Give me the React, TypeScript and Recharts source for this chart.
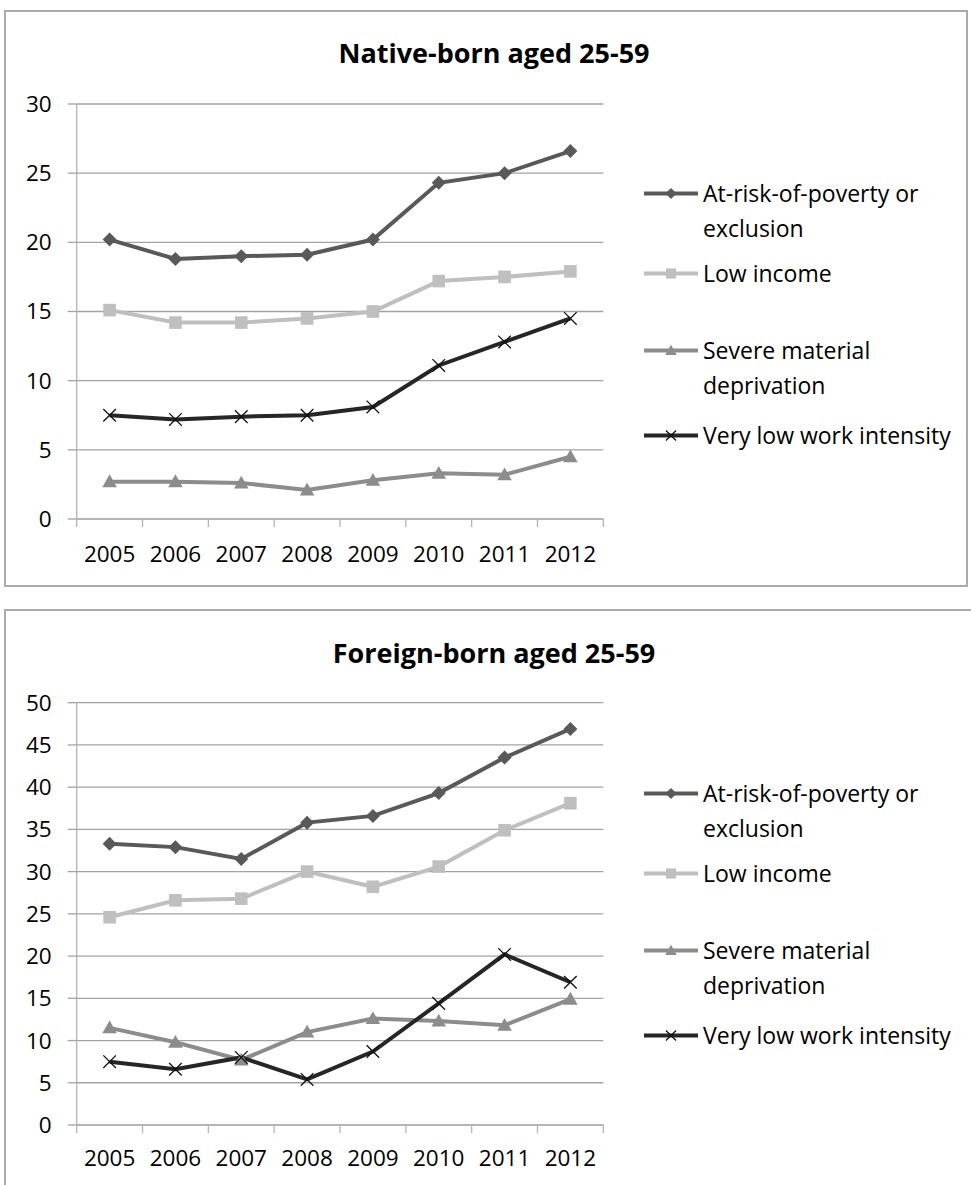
import React from "react";
import { LineChart, Line, XAxis, YAxis, CartesianGrid, Legend } from "recharts";

const YEARS = ["2005", "2006", "2007", "2008", "2009", "2010", "2011", "2012"];

const SERIES_KEYS = ["poverty", "lowIncome", "deprivation", "workIntensity"];
const SERIES_NAMES = [
  "At-risk-of-poverty or\nexclusion",
  "Low income",
  "Severe material\ndeprivation",
  "Very low work intensity",
];

// Native-born aged 25-59
const NATIVE_POVERTY = [20.2, 18.8, 19.0, 19.1, 20.2, 24.3, 25.0, 26.6];
const NATIVE_LOW_INCOME = [15.1, 14.2, 14.2, 14.5, 15.0, 17.2, 17.5, 17.9];
const NATIVE_DEPRIVATION = [2.7, 2.7, 2.6, 2.1, 2.8, 3.3, 3.2, 4.5];
const NATIVE_WORK = [7.5, 7.2, 7.4, 7.5, 8.1, 11.1, 12.8, 14.5];
const NATIVE_TICKS = [0, 5, 10, 15, 20, 25, 30];

// Foreign-born aged 25-59
const FOREIGN_POVERTY = [33.3, 32.9, 31.5, 35.8, 36.6, 39.3, 43.5, 46.9];
const FOREIGN_LOW_INCOME = [24.6, 26.6, 26.8, 30.0, 28.2, 30.6, 34.9, 38.1];
const FOREIGN_DEPRIVATION = [11.5, 9.8, 7.7, 11.0, 12.6, 12.3, 11.8, 14.9];
const FOREIGN_WORK = [7.5, 6.6, 8.0, 5.4, 8.7, 14.4, 20.2, 16.9];
const FOREIGN_TICKS = [0, 5, 10, 15, 20, 25, 30, 35, 40, 45, 50];

const FONT = "'Open Sans', sans-serif";
const GRID = "#a3a3a3";
const AXIS = "#b3b3b3";

const STYLES: Record<string, { color: string; shape: string }> = {
  poverty: { color: "#595959", shape: "diamond" },
  lowIncome: { color: "#bfbfbf", shape: "square" },
  deprivation: { color: "#8c8c8c", shape: "triangle" },
  workIntensity: { color: "#262626", shape: "cross" },
};

const PAGE_W = 971;
const PLOT_LEFT = 76.7;
const PLOT_RIGHT = 603.3;
const BAND = (PLOT_RIGHT - PLOT_LEFT) / YEARS.length;
const LEGEND_ROWS = [193, 273, 350, 435];

function buildRows(series: number[][]) {
  return YEARS.map((year, i) => {
    const row: Record<string, string | number> = { year };
    SERIES_KEYS.forEach((k, s) => (row[k] = series[s][i]));
    return row;
  });
}

function Marker({ shape, cx, cy, color, scale = 1 }: {
  shape: string; cx?: number; cy?: number; color: string; scale?: number;
}) {
  if (cx == null || cy == null) return null;
  if (shape === "diamond") {
    const r = 7 * scale;
    return <polygon points={`${cx},${cy - r} ${cx + r},${cy} ${cx},${cy + r} ${cx - r},${cy}`} fill={color} />;
  }
  if (shape === "square") {
    const h = 6.3 * scale;
    return <rect x={cx - h} y={cy - h} width={2 * h} height={2 * h} fill={color} />;
  }
  if (shape === "triangle") {
    const s = 7.3 * scale;
    return <polygon points={`${cx},${cy - s} ${cx + s},${cy + s * 0.75} ${cx - s},${cy + s * 0.75}`} fill={color} />;
  }
  const c = 6.3 * scale;
  return (
    <path
      d={`M${cx - c},${cy - c}L${cx + c},${cy + c}M${cx - c},${cy + c}L${cx + c},${cy - c}`}
      stroke="#111"
      strokeWidth={1.3}
      fill="none"
    />
  );
}

function YearTick(props: any) {
  const { x, y, payload, index, labelGap } = props;
  const half = payload?.offset || BAND / 2;
  const last = index === YEARS.length - 1;
  return (
    <g>
      <line x1={x - half} x2={x - half} y1={y} y2={y + 8} stroke={AXIS} strokeWidth={1.3} />
      {last && <line x1={x + half} x2={x + half} y1={y} y2={y + 8} stroke={AXIS} strokeWidth={1.3} />}
      <text x={x} y={y + labelGap} textAnchor="middle" dominantBaseline="central"
        fontFamily={FONT} fontSize={22.5} fill="#000">
        {payload.value}
      </text>
    </g>
  );
}

function LegendBox({ payload }: any) {
  const items = (payload || []).map((p: any) => ({ key: p.dataKey, name: p.value }));
  return (
    <div style={{ position: "relative", width: 320, height: 320 }}>
      {items.map((it: any, i: number) => {
        const st = STYLES[it.key];
        return (
          <div key={it.key} style={{ position: "absolute", left: 0, top: LEGEND_ROWS[i] - 150 - 17.5, display: "flex" }}>
            <svg width={56} height={35} style={{ flex: "none" }}>
              <line x1={1} x2={55} y1={17.5} y2={17.5} stroke={st.color} strokeWidth={4} />
              <Marker shape={st.shape} cx={28} cy={17.5} color={st.color} scale={0.8} />
            </svg>
            <div style={{ marginLeft: 4, fontFamily: FONT, fontSize: 23, lineHeight: "35px", whiteSpace: "pre-line", color: "#000" }}>
              {it.name}
            </div>
          </div>
        );
      })}
    </div>
  );
}

function Panel({ title, top, height, box, plotTop, plotBottom, labelGap, rows, ticks }: {
  title: string; top: number; height: number;
  box: { left: number; top: number; width: number; height: number };
  plotTop: number; plotBottom: number; labelGap: number;
  rows: Record<string, string | number>[]; ticks: number[];
}) {
  const axisH = 60;
  return (
    <div style={{ position: "absolute", left: 0, top, width: PAGE_W, height }}>
      <div style={{
        position: "absolute", left: box.left, top: box.top, width: box.width, height: box.height,
        border: "2px solid #ababab", boxSizing: "border-box",
      }} />
      <div style={{
        position: "absolute", left: 194, top: 35, width: 600, textAlign: "center",
        fontFamily: FONT, fontWeight: 700, fontSize: 27, lineHeight: "36px", color: "#000",
      }}>
        {title}
      </div>
      <div style={{ position: "absolute", left: 0, top: 0 }}>
        <LineChart
          width={PAGE_W}
          height={height}
          data={rows}
          margin={{ top: plotTop, right: PAGE_W - PLOT_RIGHT, bottom: height - plotBottom - axisH, left: 0 }}
        >
          <CartesianGrid vertical={false} stroke={GRID} strokeWidth={1.3} />
          <XAxis
            dataKey="year"
            scale="band"
            height={axisH}
            interval={0}
            tickSize={0}
            tickMargin={0}
            tickLine={false}
            axisLine={{ stroke: AXIS, strokeWidth: 1.3 }}
            tick={<YearTick labelGap={labelGap} />}
          />
          <YAxis
            width={PLOT_LEFT}
            domain={[0, ticks[ticks.length - 1]]}
            ticks={ticks}
            interval={0}
            tickSize={9}
            tickMargin={16}
            axisLine={{ stroke: AXIS, strokeWidth: 1.3 }}
            tickLine={{ stroke: GRID, strokeWidth: 1.3 }}
            tick={{ fontFamily: FONT, fontSize: 22.5, fill: "#000" }}
          />
          <Legend
            layout="vertical"
            align="center"
            verticalAlign="middle"
            wrapperStyle={{ left: 643, top: 150, width: 320, height: 320 }}
            content={<LegendBox />}
          />
          {SERIES_KEYS.map((k, i) => (
            <Line
              key={k}
              type="linear"
              dataKey={k}
              name={SERIES_NAMES[i]}
              stroke={STYLES[k].color}
              strokeWidth={4}
              isAnimationActive={false}
              activeDot={false}
              dot={(p: any) => (
                <Marker key={`${k}-${p.index}`} shape={STYLES[k].shape} cx={p.cx} cy={p.cy} color={STYLES[k].color} />
              )}
            />
          ))}
        </LineChart>
      </div>
    </div>
  );
}

export default function App() {
  const nativeRows = buildRows([NATIVE_POVERTY, NATIVE_LOW_INCOME, NATIVE_DEPRIVATION, NATIVE_WORK]);
  const foreignRows = buildRows([FOREIGN_POVERTY, FOREIGN_LOW_INCOME, FOREIGN_DEPRIVATION, FOREIGN_WORK]);
  return (
    <div style={{ position: "absolute", left: 0, top: 0, width: PAGE_W, height: 1185, overflow: "hidden", background: "#fff" }}>
      <Panel
        title="Native-born aged 25-59"
        top={0}
        height={600}
        box={{ left: 4, top: 10, width: 964, height: 577 }}
        plotTop={104}
        plotBottom={519}
        labelGap={34}
        rows={nativeRows}
        ticks={NATIVE_TICKS}
      />
      <Panel
        title="Foreign-born aged 25-59"
        top={600}
        height={585}
        box={{ left: 4, top: 9, width: 980, height: 600 }}
        plotTop={102.7}
        plotBottom={525}
        labelGap={32}
        rows={foreignRows}
        ticks={FOREIGN_TICKS}
      />
    </div>
  );
}
